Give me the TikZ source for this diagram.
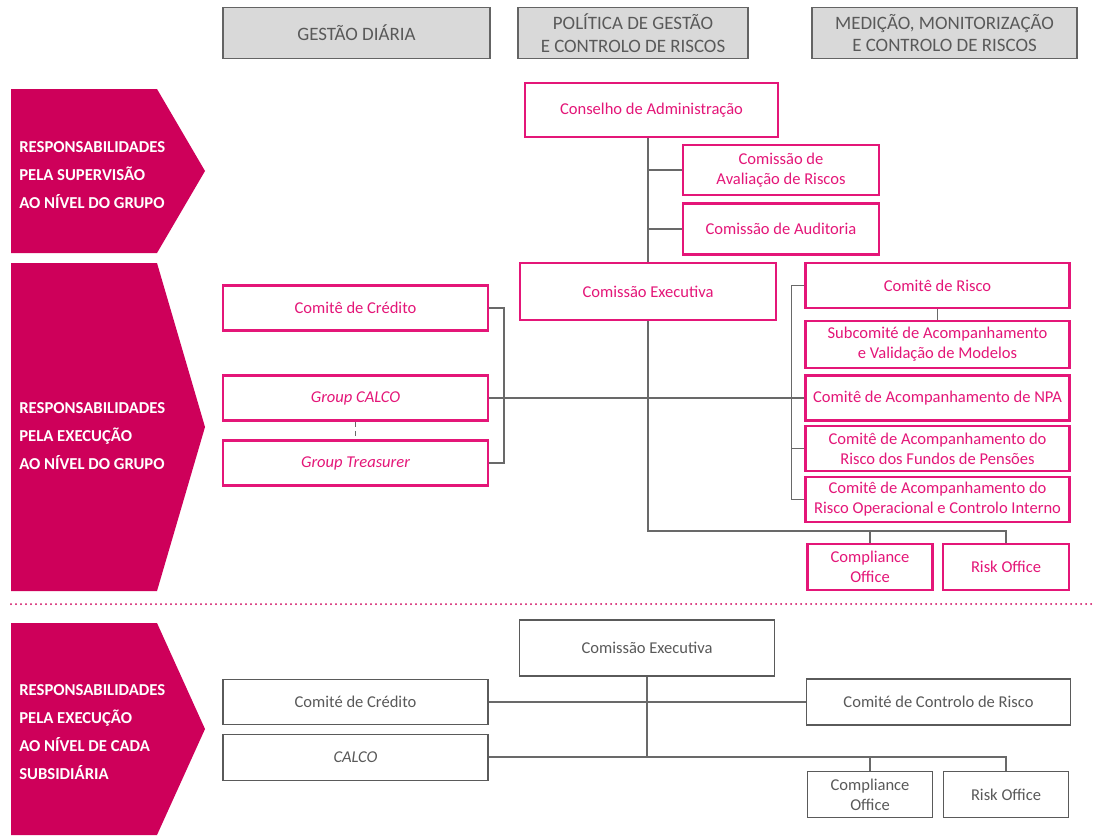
\documentclass[tikz,border=0pt]{standalone}
\usepackage{fontspec}
\setmainfont{Carlito}
\usetikzlibrary{backgrounds}
\definecolor{mag}{RGB}{206,0,90}
\definecolor{pinkc}{RGB}{228,22,120}
\definecolor{linegray}{RGB}{105,105,105}
\definecolor{hdrfill}{RGB}{217,217,217}
\definecolor{hdrborder}{RGB}{100,100,100}
\definecolor{txtgray}{RGB}{89,89,89}
\definecolor{boxgray}{RGB}{90,90,90}
\tikzset{
  sz/.style 2 args={minimum width={#1*0.75pt}, minimum height={#2*0.75pt}},
  pbox/.style={draw=pinkc, line width=1.6pt, fill=white, text=pinkc, align=center, inner sep=0pt, font=\fontsize{12.4}{15}\selectfont},
  gbox/.style={draw=boxgray, line width=1.4pt, fill=white, text=txtgray, align=center, inner sep=0pt, font=\fontsize{12.4}{15}\selectfont},
  hbox/.style={draw=hdrborder, fill=hdrfill, line width=1.2pt, text=txtgray, align=center, inner sep=0pt, font=\fontsize{14.2}{17}\selectfont},
  conn/.style={draw=linegray, line width=1.4pt},
  atext/.style={text=white, font=\bfseries\fontsize{12.5}{21}\selectfont, align=left, anchor=west, inner sep=0pt},
  arrowshape/.style={fill=mag}
}
\begin{document}
\begin{tikzpicture}[x=0.75pt, y=-0.75pt]
\useasboundingbox (0,0) rectangle (1094,835);
% headers
\node[hbox, sz={267}{51}] (h1) at (356.5,33) {GESTÃO DIÁRIA};
\node[hbox, sz={230}{51}] (h2) at (633,33) {POLÍTICA DE GESTÃO\\E CONTROLO DE RISCOS};
\node[hbox, sz={265}{51}] (h3) at (944.5,33) {MEDIÇÃO, MONITORIZAÇÃO\\E CONTROLO DE RISCOS};
% left arrows
\path[arrowshape] (11,89) -- (157,89) -- (205,171) -- (157,253) -- (11,253) -- cycle;
\path[arrowshape] (11,263) -- (157,263) -- (205,427) -- (157,591) -- (11,591) -- cycle;
\path[arrowshape] (11,623) -- (157,623) -- (205,729) -- (157,835) -- (11,835) -- cycle;
\node[atext] (t1) at (19,175) {RESPONSABILIDADES\\PELA SUPERVISÃO\\AO NÍVEL DO GRUPO};
\node[atext] (t2) at (19,436) {RESPONSABILIDADES\\PELA EXECUÇÃO\\AO NÍVEL DO GRUPO};
\node[atext] (t3) at (19,732) {RESPONSABILIDADES\\PELA EXECUÇÃO\\AO NÍVEL DE CADA\\SUBSIDIÁRIA};
% dotted separator
\coordinate (dl) at (11,604);
\coordinate (dr) at (1094,604);
\draw[mag, line width=1.5pt, dash pattern=on 0pt off 3.75pt, line cap=round] (dl) -- (dr);
% group level boxes
\node[pbox, sz={253}{54}] (ca) at (651.5,110) {Conselho de Administração};
\node[pbox, sz={196}{50}] (cav) at (781,170) {Comissão de\\Avaliação de Riscos};
\node[pbox, sz={196}{51}] (caud) at (781,229) {Comissão de Auditoria};
\node[pbox, sz={256}{57}] (ce) at (648,291.5) {Comissão Executiva};
\node[pbox, sz={265}{45}] (cc) at (355.5,308) {Comitê de Crédito};
\node[pbox, sz={265}{45}] (gcalco) at (355.5,398) {\itshape Group CALCO};
\node[pbox, sz={265}{45}] (gtreas) at (355.5,463) {\itshape Group Treasurer};
\node[pbox, sz={264}{45}] (cr) at (937.5,285.5) {Comitê de Risco};
\node[pbox, sz={264}{47}] (sub) at (937.5,344.5) {Subcomité de Acompanhamento\\e Validação de Modelos};
\node[pbox, sz={264}{45}] (npa) at (937.5,398) {Comitê de Acompanhamento de NPA};
\node[pbox, sz={264}{45}] (pens) at (937.5,448.5) {Comitê de Acompanhamento do\\Risco dos Fundos de Pensões};
\node[pbox, sz={264}{45}] (oper) at (937.5,499.5) {Comitê de Acompanhamento do\\Risco Operacional e Controlo Interno};
\node[pbox, sz={125}{46}] (comp) at (870,567) {Compliance\\Office};
\node[pbox, sz={126}{46}] (risk) at (1006,567) {Risk Office};
% subsidiary level boxes
\node[gbox, sz={255}{56}] (bce) at (647,648) {Comissão Executiva};
\node[gbox, sz={265}{45}] (bcc) at (355.5,702) {Comité de Crédito};
\node[gbox, sz={265}{46}] (bcalco) at (355.5,757.5) {\itshape CALCO};
\node[gbox, sz={264}{46}] (bccr) at (938.5,702) {Comité de Controlo de Risco};
\node[gbox, sz={125}{46}] (bcomp) at (870,794.5) {Compliance\\Office};
\node[gbox, sz={125}{46}] (brisk) at (1006,794.5) {Risk Office};
\coordinate (j1) at (648,531);
\coordinate (j2) at (647,757);
\begin{scope}[on background layer]
% group level connectors
\draw[conn] (ca.south -| ce.north) -- (ce.north);
\draw[conn] (cav.west) -- (cav.west -| ce.north);
\draw[conn] (caud.west) -- (caud.west -| ce.north);
\draw[conn] (ce.south) -- (j1) -- (j1 -| risk.north) -- (risk.north);
\draw[conn] (j1 -| comp.north) -- (comp.north);
\draw[conn] (gcalco.east) -- (npa.west);
\draw[conn] (cc.east) -- ++(15,0) |- (gtreas.east);
\draw[conn] (cr.west) -- ++(-13,0) |- (oper.west);
\draw[conn] (pens.west) -- ++(-13,0);
\draw[conn] (cr.south) -- (sub.north);
\draw[conn, dash pattern=on 4pt off 3pt] (gcalco.south) -- (gtreas.north);
% subsidiary connectors
\draw[conn] (bce.south) -- (j2);
\draw[conn] (bcc.east) -- (bccr.west);
\draw[conn] (bcalco.east |- j2) -- (j2 -| brisk.north) -- (brisk.north);
\draw[conn] (j2 -| bcomp.north) -- (bcomp.north);
\end{scope}
\end{tikzpicture}
\end{document}
